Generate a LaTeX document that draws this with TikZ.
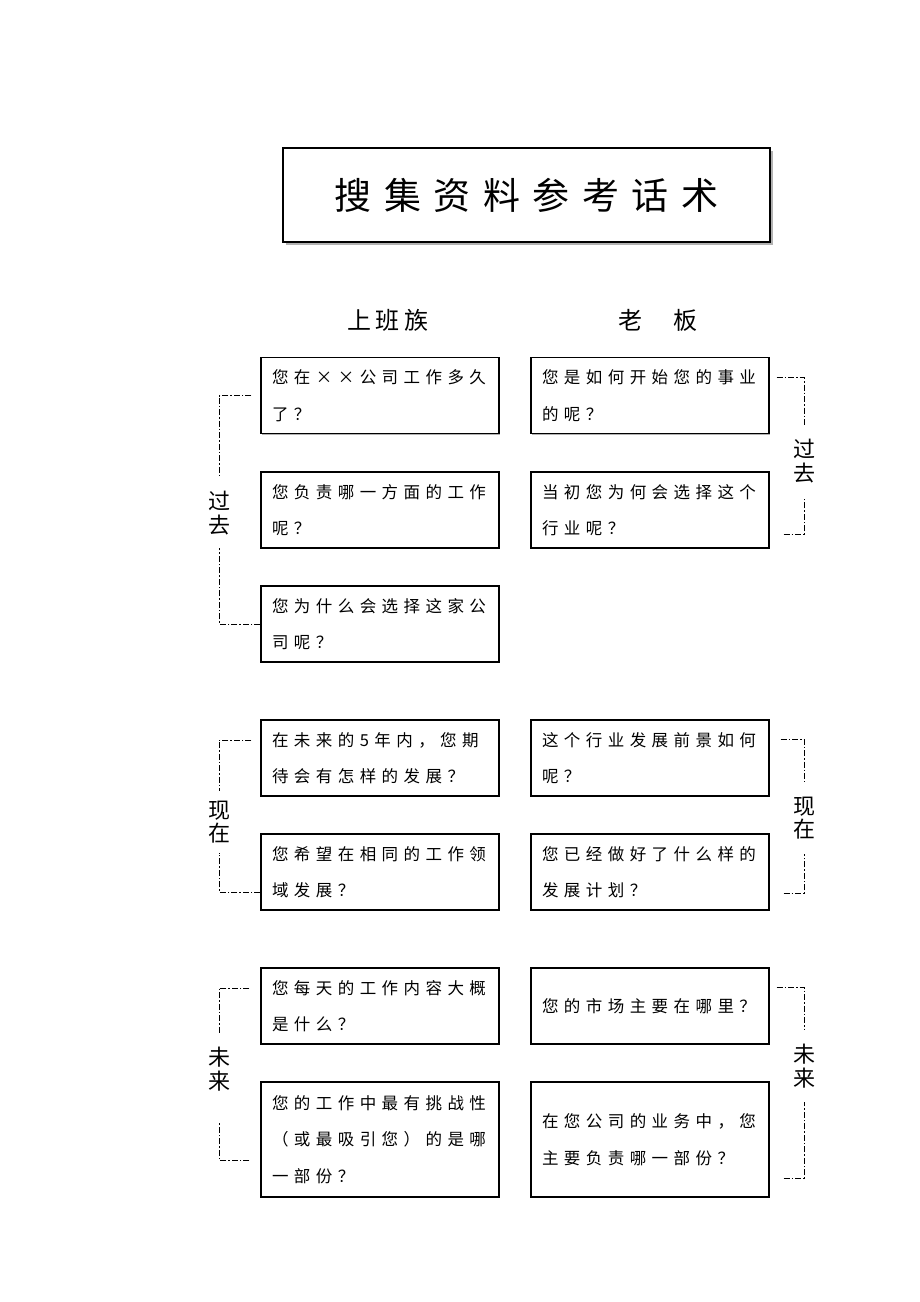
\documentclass[tikz,border=0pt]{standalone}
\usepackage{fontspec}
\setmainfont{Noto Sans CJK SC}
\newfontfamily\titlefont[LetterSpace=34]{Noto Sans CJK SC}
\newfontfamily\headfont[LetterSpace=18]{Noto Sans CJK SC}
\newfontfamily\qfont[LetterSpace=33]{Noto Sans CJK SC}
\usetikzlibrary{shadows}

\begin{document}
\begin{tikzpicture}[x=1pt, y=-1pt,
    question/.style={draw, line width=1.1pt, fill=white, minimum height=76pt, text width=216pt,
        inner xsep=11pt, inner ysep=0pt, align=left, font=\qfont\fontsize{16.5}{36.5}\selectfont,
        drop shadow={shadow xshift=1.2pt, shadow yshift=-1.2pt, fill=gray!60, opacity=1}},
    period/.style={inner sep=0pt, minimum height=70pt, align=center, font=\fontsize{22}{23.5}\selectfont},
    bracket/.style={line width=0.8pt, dash pattern=on 6pt off 2pt on 1.5pt off 2pt}]
            \useasboundingbox (0,0) rectangle (920,1302);
            \node[draw, line width=1.2pt, fill=white, minimum width=487pt, minimum height=94pt,
                drop shadow={shadow xshift=3pt, shadow yshift=-3pt, fill=gray!60, opacity=1},
                font=\titlefont\fontsize{37}{37}\selectfont] (title) at (526.5,195) {搜集资料参考话术};
            \node[font=\headfont\fontsize{24}{24}\selectfont] (staff) at (388,320) {上班族};
            \node[font=\fontsize{24}{24}\selectfont] (boss) at (658,320) {老\hspace{31pt}板};
            \node[question] (L1) at (380,395.5) {您在××公司工作多久\\了？};
            \node[question] (L2) at (380,510) {您负责哪一方面的工作\\呢？};
            \node[question] (L3) at (380,624) {您为什么会选择这家公\\司呢？};
            \node[question] (L4) at (380,758) {在未来的5年内，您期\\待会有怎样的发展？};
            \node[question] (L5) at (380,872) {您希望在相同的工作领\\域发展？};
            \node[question] (L6) at (380,1006) {您每天的工作内容大概\\是什么？};
            \node[question, minimum height=115pt] (L7) at (380,1139.5) {您的工作中最有挑战性\\（或最吸引您）的是哪\\一部份？};
            \node[question] (R1) at (650,395.5) {您是如何开始您的事业\\的呢？};
            \node[question] (R2) at (650,510) {当初您为何会选择这个\\行业呢？};
            \node[question] (R4) at (650,758) {这个行业发展前景如何\\呢？};
            \node[question] (R5) at (650,872) {您已经做好了什么样的\\发展计划？};
            \node[question] (R6) at (650,1006) {您的市场主要在哪里？};
            \node[question, minimum height=115pt] (R7) at (650,1139.5) {在您公司的业务中，您\\主要负责哪一部份？};
            \node[period] (pastL) at (219,513) {过\\去};
            \node[period, minimum height=61pt] (nowL) at (219,822) {现\\在};
            \node[period] (futL) at (219,1069) {未\\来};
            \node[period, minimum height=72pt] (pastR) at (804,461) {过\\去};
            \node[period, minimum height=71pt] (nowR) at (804,818) {现\\在};
            \node[period, minimum height=72pt] (futR) at (804,1066) {未\\来};
            \draw[bracket] ([xshift=-9pt]L1.west) -| (pastL.north);
            \draw[bracket] (L3.west) -| (pastL.south);
            \draw[bracket] ([xshift=-9pt,yshift=18pt]L4.west) -| (nowL.north);
            \draw[bracket] ([yshift=-20pt]L5.west) -| (nowL.south);
            \draw[bracket] ([xshift=-11pt,yshift=18pt]L6.west) -| (futL.north);
            \draw[bracket] ([xshift=-11pt,yshift=-20.5pt]L7.west) -| ([yshift=-19pt]futL.south);
            \draw[bracket] ([xshift=7pt,yshift=18pt]R1.east) -| (pastR.north);
            \draw[bracket] ([xshift=14pt,yshift=-24pt]R2.east) -| (pastR.south);
            \draw[bracket] ([xshift=11pt,yshift=19pt]R4.east) -| (nowR.north);
            \draw[bracket] ([xshift=14pt,yshift=-21pt]R5.east) -| (nowR.south);
            \draw[bracket] ([xshift=7pt,yshift=19pt]R6.east) -| (futR.north);
            \draw[bracket] ([xshift=14pt,yshift=-38.5pt]R7.east) -| (futR.south);
        \end{tikzpicture}
\end{document}
